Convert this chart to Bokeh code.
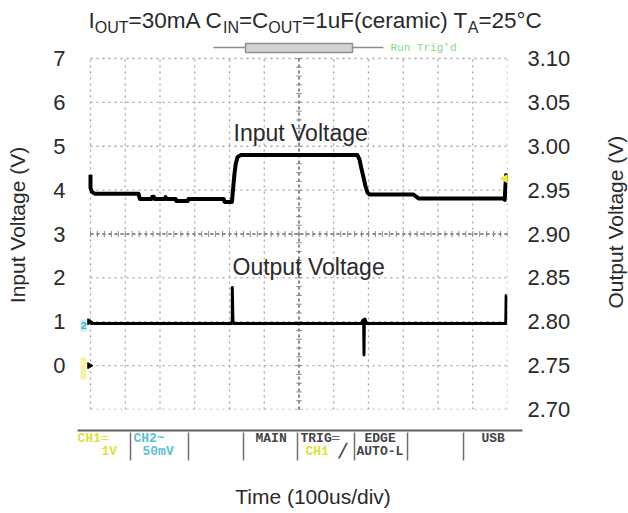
import numpy as np
from math import pi
from bokeh.plotting import figure
from bokeh.layouts import column, row
from bokeh.models import (Range1d, LinearAxis, FixedTicker, PrintfTickFormatter, Label)
from bokeh.core.properties import value
from bokeh.embed import file_html
from bokeh.resources import INLINE

# ---------------- data (time in divisions of 100us) ----------------
in_t = [0.00, 0.00, 0.04, 0.12, 0.25, 1.38, 1.42, 1.76, 1.78, 1.82, 1.84, 2.14, 2.16, 2.20,
        2.45, 2.47, 2.80, 2.82, 3.83, 3.86, 4.07, 4.10, 4.14, 4.18, 4.23, 4.32,
        7.68, 7.74, 7.80, 7.86, 7.91, 7.97, 8.03, 9.29, 9.44, 11.88, 11.92, 11.94, 11.97]
in_v = [4.35, 4.05, 3.96, 3.92, 3.92, 3.92, 3.80, 3.80, 3.85, 3.85, 3.80, 3.80, 3.84, 3.80,
        3.80, 3.75, 3.75, 3.80, 3.80, 3.73, 3.73, 4.00, 4.35, 4.60, 4.75, 4.80,
        4.80, 4.70, 4.48, 4.28, 4.10, 3.95, 3.90, 3.90, 3.81, 3.81, 3.78, 4.10, 4.38]

out_t = [0.00, 4.06, 4.08, 4.08, 4.10, 4.12, 7.80, 7.84, 7.86, 7.87, 7.88, 7.90, 7.94,
         11.95, 11.96, 11.97]
out_v = [2.798, 2.798, 2.801, 2.839, 2.801, 2.798, 2.798, 2.802, 2.800, 2.762, 2.800, 2.803,
         2.798, 2.798, 2.830, 2.830]

trig_level = 4.26
left_ticks = [0, 1, 2, 3, 4, 5, 6, 7]
right_ticks = [2.70, 2.75, 2.80, 2.85, 2.90, 2.95, 3.00, 3.05, 3.10]
x_divs = list(range(0, 13))
y_divs = list(range(-1, 8))

title_parts = [("I", "m"), ("OUT", "s"), ("=30mA C", "m"), ("IN", "s"), ("=C", "m"),
               ("OUT", "s"), ("=1uF(ceramic) T", "m"), ("A", "s"), ("=25°C", "m")]

# ---------------- layout (page pixels) ----------------
FONT = "Liberation Sans"
MONO = "Liberation Mono"
TXT = "#2a2a2a"
GL, GR, GT, GB = 90, 507, 58, 409          # scope graticule in page pixels
TOP_H = 40                                   # title strip height
MAIN_L, MAIN_R, MAIN_B = 77, 600, 422        # main figure frame left, figure right, bottom
XPX = (GR - GL) / 12.0
YPX = (GB - GT) / 8.0

def dx(px):
    return (px - GL) / XPX

def dy(py):
    return 7 - (py - GT) / YPX

def deco_fig(w, h, xr, yr):
    f = figure(width=w, height=h, x_range=Range1d(*xr), y_range=Range1d(*yr),
               x_axis_location=None, y_axis_location=None, output_backend="svg",
               toolbar_location=None, min_border=0)
    f.grid.visible = False
    f.outline_line_color = None
    return f

# ---------------- main figure ----------------
y_top = dy(TOP_H)
p = figure(frame_width=GR - MAIN_L, frame_height=GB - TOP_H,
           x_range=Range1d(dx(MAIN_L), 12), y_range=Range1d(-1, y_top),
           x_axis_location=None, output_backend="svg", toolbar_location=None,
           min_border_left=MAIN_L, min_border_right=MAIN_R - GR,
           min_border_top=0, min_border_bottom=MAIN_B - GB)
p.outline_line_color = None
p.grid.visible = False
p.extra_y_ranges = {"out": Range1d(2.70, 2.75 + y_top / 20.0)}

# graticule
GC = "#a4a4a4"
p.segment(x0=x_divs, y0=-1, x1=x_divs, y1=7, line_color=GC, line_dash="2 4", line_width=1.3)
p.segment(x0=0, y0=y_divs, x1=12, y1=y_divs, line_color=GC, line_dash="2 4", line_width=1.3)
p.segment(x0=[6], y0=-1, x1=[6], y1=7, line_color="#8a8a8a", line_dash="3 3", line_width=2)
p.segment(x0=0, y0=[3], x1=12, y1=[3], line_color="#8a8a8a", line_dash="3 3", line_width=2)
tx = np.arange(0, 12.001, 0.2)
p.segment(x0=tx, y0=3 - 0.07, x1=tx, y1=3 + 0.07, line_color="#8a8a8a", line_width=1)
ty = np.arange(-1, 7.001, 0.2)
p.segment(x0=6 - 0.08, y0=ty, x1=6 + 0.08, y1=ty, line_color="#8a8a8a", line_width=1)

# left axis
ly = p.yaxis[0]
ly.ticker = FixedTicker(ticks=left_ticks)
ly.axis_label = "Input Voltage (V)"
ly.axis_label_text_font = FONT
ly.axis_label_text_font_size = "21px"
ly.axis_label_text_font_style = "normal"
ly.axis_label_text_color = TXT
ly.axis_label_standoff = 21
ly.major_label_standoff = GL - MAIN_L - 1

# right axis
ry = LinearAxis(y_range_name="out", ticker=FixedTicker(ticks=right_ticks),
                formatter=PrintfTickFormatter(format="%.2f"))
p.add_layout(ry, "right")
ry.major_label_standoff = 20

for ax in (ly, ry):
    ax.axis_line_color = None
    ax.major_tick_line_color = None
    ax.minor_tick_line_color = None
    ax.major_tick_out = 0
    ax.major_tick_in = 0
    ax.major_label_text_font = FONT
    ax.major_label_text_font_size = "22px"
    ax.major_label_text_color = TXT

# traces
p.line(in_t, in_v, line_color="black", line_width=4, line_join="round")
p.line(out_t, out_v, y_range_name="out", line_color="black", line_width=3, line_join="round")
p.scatter([11.93], [trig_level], marker="triangle", angle=pi / 2, size=8,
          fill_color="#f0ea30", line_color="#f0ea30")

# in-plot labels
p.add_layout(Label(x=dx(233), y=dy(132), text="Input Voltage", text_font=FONT,
                   text_font_size="23px", text_color=TXT, text_baseline="middle"))
p.add_layout(Label(x=dx(232), y=dy(266), text="Output Voltage", text_font=FONT,
                   text_font_size="23px", text_color=TXT, text_baseline="middle"))

# scope header inside the main frame: scroll bar + Run Trig'd
p.segment(x0=[dx(213)], y0=dy(47), x1=[dx(383)], y1=dy(47), line_color="#8c8c8c", line_width=1.5)
p.quad(left=[dx(245)], right=[dx(352)], top=[dy(43)], bottom=[dy(52)],
       fill_color="#d2d2d2", line_color="#909090", line_width=1.5)
p.text(x=[dx(390)], y=[dy(47)], text=["Run Trig'd"], text_font=value(MONO),
       text_font_size="11px", text_color="#86d886", text_baseline="middle")

# channel ground markers on the left edge
p.quad(left=[dx(80)], right=[dx(86)], top=[dy(357)], bottom=[dy(379)],
       fill_color="#f6f2a8", line_color=None)
p.quad(left=[dx(80)], right=[dx(86)], top=[dy(319)], bottom=[dy(331)],
       fill_color="#c8eef2", line_color=None)
p.text(x=[dx(80)], y=[dy(325)], text=["2"], text_font=value(MONO), text_font_size="11px",
       text_color="#40b8c8", text_font_style="bold", text_baseline="middle")
p.scatter([dx(89)] * 2, [1, 0], marker="triangle", angle=-pi / 2, size=6,
          fill_color="black", line_color="black")

# ---------------- title strip ----------------
tf = deco_fig(MAIN_R + 28, TOP_H, (0, MAIN_R + 28), (TOP_H, 0))
W = {"I": 278, "O": 778, "U": 722, "T": 611, "=": 584, "3": 556, "0": 556, "m": 833,
     "A": 667, " ": 278, "C": 722, "N": 722, "1": 556, "u": 556, "F": 611, "(": 333,
     "c": 500, "e": 556, "r": 333, "a": 556, "i": 222, ")": 333, "2": 556, "5": 556,
     "°": 400}
MS, SS = 22.5, 16
cx = 88.0
mx, mt, sx_, st = [], [], [], []
for txt, kind in title_parts:
    size = MS if kind == "m" else SS
    if kind == "m":
        mx.append(cx); mt.append(txt)
    else:
        sx_.append(cx); st.append(txt)
    cx += sum(W[c] for c in txt) / 1000.0 * size
tf.text(x=mx, y=20, text=mt, text_font=value(FONT), text_font_size=f"{MS}px",
        text_color=TXT, text_baseline="middle")
tf.text(x=sx_, y=26.5, text=st, text_font=value(FONT), text_font_size=f"{SS}px",
        text_color=TXT, text_baseline="middle")

# ---------------- right axis title strip ----------------
rf = deco_fig(28, MAIN_B - TOP_H, (MAIN_R, MAIN_R + 28), (MAIN_B, TOP_H))
rf.text(x=[615], y=[228], text=["Output Voltage (V)"], angle=pi / 2, text_font=value(FONT),
        text_font_size="21px", text_color=TXT, text_align="center", text_baseline="middle")

# ---------------- status bar + x title strip ----------------
bf = deco_fig(MAIN_R + 28, 513 - MAIN_B, (0, MAIN_R + 28), (513, MAIN_B))
bf.segment(x0=[77], y0=430, x1=[522], y1=430, line_color="#606060", line_width=2)
seps = [130, 188, 243, 297, 354, 407, 463]
bf.segment(x0=seps, y0=432, x1=seps, y1=460, line_color="#707070", line_width=1.5)
YEL, CYN, GRY = "#e0e03a", "#58c2ce", "#444444"
status = [("CH1═", 77, 438, YEL), ("1V", 101, 451, YEL), ("CH2~", 133, 438, CYN),
          ("50mV", 142, 451, CYN), ("MAIN", 255, 438, GRY), ("TRIG═", 300, 438, GRY),
          ("CH1", 305, 451, YEL), ("╱", 338, 451, GRY), ("EDGE", 364, 438, GRY),
          ("AUTO-L", 356, 451, GRY), ("USB", 481, 438, GRY)]
bf.text(x=[s[1] for s in status], y=[s[2] for s in status], text=[s[0] for s in status],
        text_color=[s[3] for s in status], text_font=value(MONO), text_font_size="13px",
        text_font_style="bold", text_baseline="middle")
bf.text(x=[312.5], y=[496], text=["Time (100us/div)"], text_font=value(FONT),
        text_font_size="21px", text_color=TXT, text_align="center", text_baseline="middle")

layout = column(tf, row(p, rf), bf)
open("out.html", "w").write(file_html(layout, INLINE))
